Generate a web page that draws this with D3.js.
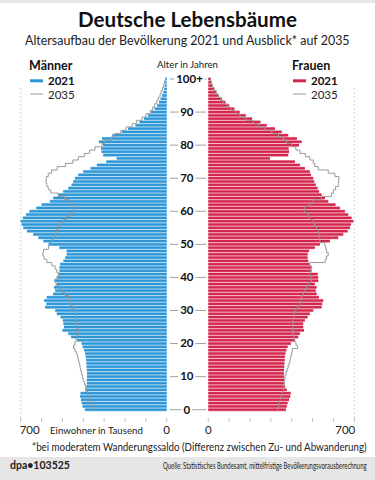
<!DOCTYPE html>
<html>
<head>
<meta charset="utf-8">
<script src="https://cdn.jsdelivr.net/npm/d3@7"></script>
<style>
  body { margin: 0; background: #fff; }
  svg { display: block; font-family: Lato, "Open Sans", sans-serif; }
</style>
</head>
<body>
<div id="chart"></div>
<script>
// Ages 0 .. 100 (100 = "100+")
const ages = d3.range(0, 101);

// Männer 2021, in Tausend
const men2021 = [392,403,407,411,415,413,390,385,383,383, 382,382,383,384,385,386,388,391,396,403,
  408,430,458,472,500,492,495,498,508,527, 535,583,577,588,575,545,535,540,527,538,
  527,519,514,514,511,495,487,479,480,515, 567,591,615,640,670,687,695,700,690,674,
  658,625,600,560,544,520,496,472,456,448, 440,424,400,365,335,290,240,304,312,315,
  305,325,310,260,215,185,150,130,108,90, 75,58,46,37,29,22,16,12,9,6, 5];

// Männer 2035 (Ausblick)
const men2035 = [352,357,362,368,373,378,384,389,394,400, 404,408,412,415,419,423,427,431,440,447,
  440,435,430,425,423,428,432,435,437,438, 439,451,459,463,471,487,503,514,530,535,
  524,519,527,535,551,575,588,594,591,567, 562,551,543,535,527,519,511,495,479,463,
  447,440,445,465,490,520,555,568,575,579, 577,568,552,525,485,450,424,395,370,344,
  310,296,264,248,220,195,165,144,118,100, 80,68,58,48,40,32,26,20,15,10, 6];

// Frauen 2021
const women2021 = [372,376,380,387,393,395,376,368,364,364, 363,362,363,364,365,366,367,370,374,380,
  396,415,431,439,459,455,455,463,476,487, 503,543,546,551,530,519,515,519,511,527,
  527,524,495,492,487,479,476,476,483,511, 535,583,623,647,668,679,684,695,687,671,
  655,631,610,575,559,543,531,524,515,508, 503,492,487,463,439,415,296,383,387,385,
  435,447,425,383,352,320,280,250,210,180, 150,125,100,82,65,50,38,28,20,15, 13];

// Frauen 2035
const women2035 = [332,336,340,344,349,354,360,362,364,366, 368,373,378,383,388,392,396,400,403,428,
  420,415,411,407,405,405,406,407,410,412, 415,431,439,443,447,455,463,471,479,495,
  491,487,490,495,487,560,567,575,567,563, 559,535,535,531,527,519,510,503,487,479,
  460,463,487,503,543,591,600,610,623,625, 626,607,575,527,510,503,487,465,439,420,
  400,376,360,336,304,272,240,216,180,152, 130,110,90,72,60,48,38,28,20,14, 10];

const ageTicks = [0,10,20,30,40,50,60,70,80,90,100];
const valueTicks = [0,100,200,300,400,500,600,700];

const width = 375, height = 480;
const blue = "#2f96d6", blueLight = "#9ed2f1";
const red = "#d3264c", redLight = "#f2a3b4";
const grey = "#9a9a9a";

const svg = d3.select("#chart").append("svg")
  .attr("width", width)
  .attr("height", height);

// scales: left side grows to the left, right side to the right
const xL = d3.scaleLinear().domain([0, 700]).range([166.7, 20.7]);
const xR = d3.scaleLinear().domain([0, 700]).range([208.3, 354.3]);
const y = d3.scaleLinear().domain([0, 100]).range([409.7, 79]);
const step = y(0) - y(1);

// text helper: optional target width, squeezed horizontally (the original font is condensed)
function label(x, yy, str, size, opts, target) {
  opts = opts || {};
  const g = svg.append("g").attr("transform", "translate(" + x + "," + yy + ")");
  const t = g.append("text")
    .attr("font-size", size)
    .attr("font-weight", opts.bold ? "bold" : "normal")
    .attr("text-anchor", opts.anchor || "start")
    .attr("fill", opts.fill || "#1a1a1a")
    .text(str);
  if (target) {
    const w = t.node().getComputedTextLength();
    g.attr("transform", "translate(" + x + "," + yy + ") scale(" + (target / w) + ",1)");
  }
  return t;
}

// top strip and footer band
svg.append("rect").attr("x", 0).attr("y", 0).attr("width", width).attr("height", 3).attr("fill", "#e6e6e6");
svg.append("rect").attr("x", 0).attr("y", 457).attr("width", width).attr("height", 23).attr("fill", "#e6e6e6");

// title
label(187.5, 27, "Deutsche Lebensbäume", 20, {bold: true, anchor: "middle", fill: "#111"}, 219);
label(25, 45, "Altersaufbau der Bevölkerung 2021 und Ausblick* auf 2035", 13, {fill: "#222"}, 325);

// dashed guides at 700
[xL(700), xR(700)].forEach(function(x) {
  svg.append("line").attr("x1", x).attr("x2", x).attr("y1", 88).attr("y2", 421)
    .attr("stroke", "#c8c8c8").attr("stroke-width", 0.8).attr("stroke-dasharray", "2,2");
});

// bars: light full-height band with a darker stripe in the middle
function drawBars(data, scale, dark, light, left) {
  const g = svg.append("g");
  g.selectAll("rect.band").data(ages).enter().append("rect")
    .attr("x", function(a) { return left ? scale(data[a]) : scale(0); })
    .attr("y", function(a) { return y(a) - step / 2; })
    .attr("width", function(a) { return Math.abs(scale(data[a]) - scale(0)); })
    .attr("height", step)
    .attr("fill", light);
  g.selectAll("rect.bar").data(ages).enter().append("rect")
    .attr("x", function(a) { return left ? scale(data[a]) : scale(0); })
    .attr("y", function(a) { return y(a) - 1.1; })
    .attr("width", function(a) { return Math.abs(scale(data[a]) - scale(0)); })
    .attr("height", 2.2)
    .attr("fill", dark);
}
drawBars(men2021, xL, blue, blueLight, true);
drawBars(women2021, xR, red, redLight, false);

// 2035 as step line: each age gives a vertical segment across its row
function stepPoints(data, scale) {
  const pts = [];
  ages.forEach(function(a) {
    pts.push([scale(data[a]), y(a) + step / 2]);
    pts.push([scale(data[a]), y(a) - step / 2]);
  });
  return pts;
}
const line = d3.line();
svg.append("path").attr("d", line(stepPoints(men2035, xL)))
  .attr("fill", "none").attr("stroke", grey).attr("stroke-width", 1);
svg.append("path").attr("d", line(stepPoints(women2035, xR)))
  .attr("fill", "none").attr("stroke", grey).attr("stroke-width", 1);

// age axis in the middle
label(187.5, 68, "Alter in Jahren", 10, {anchor: "middle", fill: "#222"}, 61);
ageTicks.forEach(function(a) {
  const txt = a === 100 ? "100+" : String(a);
  const cx = a === 100 ? 189.5 : 186.8;
  const t = label(cx, y(a) + 3.8, txt, 11.5, {bold: true, anchor: "middle", fill: "#111"});
  const w = t.node().getComputedTextLength();
  svg.append("line").attr("x1", 170).attr("x2", cx - w / 2 - 2).attr("y1", y(a)).attr("y2", y(a))
    .attr("stroke", "#888").attr("stroke-width", 0.8);
  svg.append("line").attr("x1", cx + w / 2 + 2).attr("x2", 206).attr("y1", y(a)).attr("y2", y(a))
    .attr("stroke", "#888").attr("stroke-width", 0.8);
});

// value ticks at the bottom
valueTicks.forEach(function(v) {
  [xL(v), xR(v)].forEach(function(x) {
    svg.append("line").attr("x1", x).attr("x2", x).attr("y1", 418).attr("y2", 422)
      .attr("stroke", "#b5b5b5").attr("stroke-width", 0.8);
  });
});
label(xL(700) - 1, 434, "700", 11.5, {fill: "#222"});
label(xR(700) + 1, 434, "700", 11.5, {anchor: "end", fill: "#222"});
label(xL(0), 434, "0", 11.5, {anchor: "middle", fill: "#222"});
label(xR(0), 434, "0", 11.5, {anchor: "middle", fill: "#222"});
label(50, 434, "Einwohner in Tausend", 10, {fill: "#222"}, 93);
label(32, 450.5, "*bei moderatem Wanderungssaldo (Differenz zwischen Zu- und Abwanderung)", 10.5, {fill: "#222"}, 335);

// legends
function legend(x, title, color) {
  label(x, 70, title, 12.5, {bold: true, fill: "#111"});
  svg.append("rect").attr("x", x + 1).attr("y", 79.3).attr("width", 13).attr("height", 3).attr("fill", color);
  label(x + 19, 85, "2021", 11.5, {bold: true, fill: "#111"});
  svg.append("line").attr("x1", x + 1).attr("x2", x + 14).attr("y1", 94).attr("y2", 94)
    .attr("stroke", grey).attr("stroke-width", 1);
  label(x + 19, 99.3, "2035", 11.5, {fill: "#222"});
}
legend(29, "Männer", blue);
legend(292, "Frauen", red);

// footer
label(10, 469, "dpa•103525", 11.5, {bold: true, fill: "#222"}, 60);
label(163, 469, "Quelle: Statistisches Bundesamt, mittelfristige Bevölkerungsvorausberechnung", 9, {fill: "#222"}, 204);
</script>
</body>
</html>
